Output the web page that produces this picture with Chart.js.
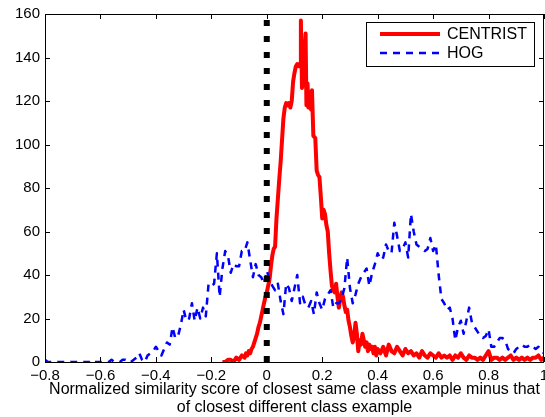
<!DOCTYPE html>
<html>
<head>
<meta charset="utf-8">
<script src="https://cdn.jsdelivr.net/npm/chart.js@4/dist/chart.umd.min.js"></script>
<style>
html,body{margin:0;padding:0;background:#fff;}
#c{display:block;}
</style>
</head>
<body>
<canvas id="c" width="545" height="417"></canvas>
<script>
// ---- data ----
const xTickValues = [-0.8,-0.6,-0.4,-0.2,0,0.2,0.4,0.6,0.8,1];
const xTickLabels = ['\u22120.8','\u22120.6','\u22120.4','\u22120.2','0','0.2','0.4','0.6','0.8','1'];
const yTickValues = [0,20,40,60,80,100,120,140,160];
const yTickLabels = ['0','20','40','60','80','100','120','140','160'];

const seriesNames = ['CENTRIST','HOG'];

const hogX = [-0.80,-0.79,-0.78,-0.77,-0.76,-0.75,-0.74,-0.73,-0.72,-0.71,-0.70,-0.69,-0.68,-0.67,-0.66,-0.65,-0.64,-0.63,-0.62,-0.61,
-0.60,-0.59,-0.58,-0.57,-0.56,-0.55,-0.54,-0.53,-0.52,-0.51,-0.50,-0.49,-0.48,-0.47,-0.46,-0.45,-0.44,-0.43,-0.42,-0.41,
-0.40,-0.39,-0.38,-0.37,-0.36,-0.35,-0.34,-0.33,-0.32,-0.31,-0.30,-0.29,-0.28,-0.27,-0.26,-0.25,-0.24,-0.23,-0.22,-0.21,
-0.20,-0.19,-0.18,-0.17,-0.16,-0.15,-0.14,-0.13,-0.12,-0.11,-0.10,-0.09,-0.08,-0.07,-0.06,-0.05,-0.04,-0.03,-0.02,-0.01,
0.00,0.01,0.02,0.03,0.04,0.05,0.06,0.07,0.08,0.09,0.10,0.11,0.12,0.13,0.14,0.15,0.16,0.17,0.18,0.19,
0.20,0.21,0.22,0.23,0.24,0.25,0.26,0.27,0.28,0.29,0.30,0.31,0.32,0.33,0.34,0.35,0.36,0.37,0.38,0.39,
0.40,0.41,0.42,0.43,0.44,0.45,0.46,0.47,0.48,0.49,0.50,0.51,0.52,0.53,0.54,0.55,0.56,0.57,0.58,0.59,
0.60,0.61,0.62,0.63,0.64,0.65,0.66,0.67,0.68,0.69,0.70,0.71,0.72,0.73,0.74,0.75,0.76,0.77,0.78,0.79,
0.80,0.81,0.82,0.83,0.84,0.85,0.86,0.87,0.88,0.89,0.90,0.91,0.92,0.93,0.94,0.95,0.96,0.97,0.98,0.99,1.00];
const hogY = [1,0,0,0,0,0,0,0,0,0,0,0,0,0,0,0,0,1,0,0,
0,0,0,0,1,0,0,0,1,1,0,0,1,2,4,1,0,3,4,5,
7,5,3,6,9,8,16,11,12,17,24,19,20,27,19,25,20,25,21,36,
35,36,50,30,43,51,49,41,45,44,44,51,51,55,47,39,45,40,39,36,
42,38,35,33,36,28,22,36,34,28,34,40,27,30,26,25,28,22,32,27,
24,29,31,33,25,27,27,29,34,48,34,27,31,36,39,41,43,35,41,45,
50,47,48,54,51,50,64,58,51,52,55,48,68,60,54,53,52,51,52,57,
51,54,40,29,27,24,25,20,10,16,19,13,19,25,18,16,14,12,11,12,
15,7,7,9,11,11,10,6,5,4,6,7,8,7,7,8,7,6,7,5,4];

const centristX = [-0.16,-0.15,-0.14,-0.13,-0.12,-0.11,-0.10,-0.09,-0.08,-0.075,-0.07,-0.065,-0.06,-0.055,-0.05,-0.045,-0.04,-0.035,-0.03,-0.025,
-0.02,-0.015,-0.01,-0.005,0,0.005,0.01,0.015,0.02,0.025,0.03,0.035,0.04,0.045,0.05,0.055,0.06,0.065,0.07,0.075,
0.08,0.085,0.09,0.095,0.10,0.105,0.11,0.115,0.12,0.123,0.127,0.13,0.135,0.14,0.143,0.147,0.15,0.155,0.16,0.163,
0.168,0.175,0.18,0.185,0.19,0.195,0.20,0.205,0.21,0.215,0.22,0.225,0.23,0.235,0.24,0.245,0.25,0.255,0.26,0.265,
0.27,0.275,0.28,0.285,0.29,0.295,0.30,0.305,0.31,0.315,0.32,0.325,0.33,0.335,0.34,0.345,0.35,0.355,0.36,0.365,
0.37,0.375,0.38,0.385,0.39,0.395,0.40,0.41,0.42,0.43,0.44,0.45,0.46,0.47,0.48,0.49,0.50,0.51,0.52,0.53,
0.54,0.55,0.56,0.57,0.58,0.59,0.60,0.61,0.62,0.63,0.64,0.65,0.66,0.67,0.68,0.69,0.70,0.71,0.72,0.73,
0.74,0.75,0.76,0.77,0.78,0.79,0.80,0.81,0.82,0.83,0.84,0.85,0.86,0.87,0.88,0.89,0.90,0.91,0.92,0.93,
0.94,0.95,0.96,0.97,0.98,0.99,1.00];
const centristY = [0,0,1,1,0,2,1,3,2,4,3,5,4,6,7,9,11,13,16,18,
21,24,27,30,32,35,38,44,49,52,53,66,75,84,92,102,112,117,119,118,
119,117,120,129,133,136,137,136,137,157,126,128,140,151,118,128,117,124,116,125,
104,103,88,86,85,76,66,70,68,63,60,50,42,35,33,32,36,30,25,29,
32,30,26,23,24,19,16,12,9,12,18,13,5,10,8,13,10,7,9,5,
8,6,7,4,7,3,6,4,7,3,8,5,4,7,5,3,6,4,5,3,
4,2,5,3,2,4,3,2,4,2,3,2,3,1,3,2,4,2,1,3,
2,2,1,2,1,3,5,1,2,2,1,2,1,2,3,1,2,1,2,1,
2,1,2,2,3,1,2];

const zeroLineX = [0,0];
const zeroLineY = [0,160];

const toPts = (xs, ys) => xs.map((x,i)=>({x:x, y:ys[i]}));

const FONT = '"Liberation Sans", Arial, Helvetica, sans-serif';

// frame + inward ticks on all 4 sides
const framePlugin = {
  id:'frame',
  afterDatasetsDraw(chart){
    const {ctx, chartArea:a, scales} = chart;
    ctx.save();
    ctx.strokeStyle = '#000';
    ctx.lineWidth = 1;
    ctx.strokeRect(Math.round(a.left)+0.5, Math.round(a.top)+0.5, Math.round(a.right-a.left)-1, Math.round(a.bottom-a.top));
    const tl = 5;
    ctx.beginPath();
    scales.x.ticks.forEach(t=>{
      const px = Math.round(scales.x.getPixelForValue(t.value))+0.5;
      ctx.moveTo(px, a.bottom); ctx.lineTo(px, a.bottom - tl);
      ctx.moveTo(px, a.top); ctx.lineTo(px, a.top + tl);
    });
    scales.y.ticks.forEach(t=>{
      const py = Math.round(scales.y.getPixelForValue(t.value))+0.5;
      ctx.moveTo(a.left, py); ctx.lineTo(a.left + tl, py);
      ctx.moveTo(a.right, py); ctx.lineTo(a.right - tl, py);
    });
    ctx.stroke();
    ctx.restore();
  }
};

// boxed legend inside the plot area (top-right)
const legendPlugin = {
  id:'boxLegend',
  afterDraw(chart){
    const {ctx, chartArea:a} = chart;
    const ds = seriesNames.map(n=>chart.data.datasets.find(d=>d.label===n));
    const w = 168, h = 44;
    const x0 = a.right - 10 - w, y0 = a.top + 8;
    ctx.save();
    ctx.fillStyle = '#fff';
    ctx.fillRect(x0, y0, w, h);
    ctx.strokeStyle = '#000';
    ctx.lineWidth = 1;
    ctx.strokeRect(x0+0.5, y0+0.5, w, h);
    ctx.font = '16px ' + FONT;
    ctx.textBaseline = 'middle';
    ds.forEach((d,i)=>{
      const yy = y0 + 12 + i*19;
      ctx.beginPath();
      ctx.strokeStyle = d.borderColor;
      ctx.lineWidth = d.borderWidth;
      ctx.setLineDash(d.borderDash || []);
      ctx.moveTo(x0 + 14, yy);
      ctx.lineTo(x0 + 74, yy);
      ctx.stroke();
      ctx.setLineDash([]);
      ctx.fillStyle = '#000';
      ctx.fillText(d.label, x0 + 81, yy + 1);
    });
    ctx.restore();
  }
};

new Chart(document.getElementById('c'), {
  type:'line',
  data:{
    datasets:[
      { label:'zero', data:toPts(zeroLineX, zeroLineY), borderColor:'#000', borderWidth:6,
        borderDash:[6,10], borderCapStyle:'butt', pointRadius:0, tension:0 },
      { label:seriesNames[1], data:toPts(hogX, hogY), borderColor:'#0000ff', borderWidth:2.5,
        borderDash:[7,6], pointRadius:0, tension:0, borderJoinStyle:'round' },
      { label:seriesNames[0], data:toPts(centristX, centristY), borderColor:'#ff0000', borderWidth:4,
        pointRadius:0, tension:0, borderJoinStyle:'round' }
    ]
  },
  options:{
    responsive:false,
    animation:false,
    layout:{ padding:{ top:14, right:1, left:0, bottom:0 } },
    plugins:{ legend:{display:false}, tooltip:{enabled:false} },
    scales:{
      x:{
        type:'linear', min:-0.8, max:1,
        grid:{ display:false, drawTicks:false },
        border:{ display:false },
        afterBuildTicks(s){ s.ticks = xTickValues.map(v=>({value:v})); },
        afterFit(s){ s.height = 55; s.paddingLeft = 0; s.paddingRight = 0; },
        ticks:{ color:'#000', padding:5, maxRotation:0, autoSkip:false,
          font:{ family:FONT, size:15 },
          callback(v, i){ return xTickLabels[i]; } },
        title:{ display:true, color:'#000',
          text:['Normalized similarity score of closest same class example minus that','of closest different class example'],
          font:{ family:FONT, size:16, lineHeight:1.15 }, padding:{ top:0, bottom:0 } }
      },
      y:{
        type:'linear', min:0, max:160,
        grid:{ display:false, drawTicks:false },
        border:{ display:false },
        afterBuildTicks(s){ s.ticks = yTickValues.map(v=>({value:v})); },
        afterFit(s){ s.width = 45; s.paddingTop = 0; s.paddingBottom = 0; },
        ticks:{ color:'#000', padding:5, autoSkip:false,
          font:{ family:FONT, size:15 },
          callback(v, i){ return yTickLabels[i]; } }
      }
    }
  },
  plugins:[framePlugin, legendPlugin]
});
</script>
</body>
</html>
